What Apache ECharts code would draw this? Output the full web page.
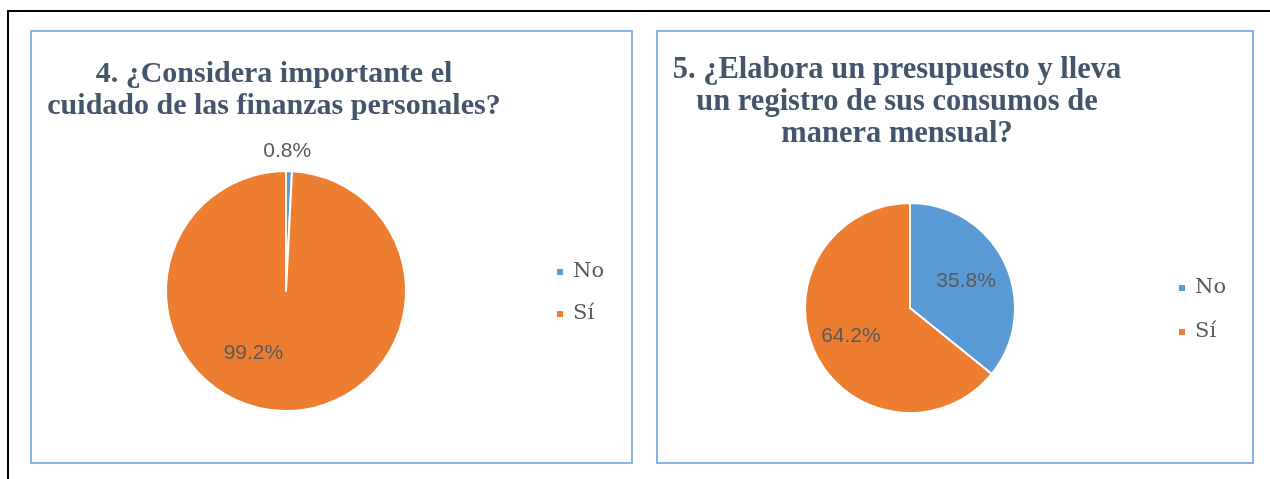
<!DOCTYPE html>
<html>
<head>
<meta charset="utf-8">
<script src="https://cdn.jsdelivr.net/npm/echarts@6/dist/echarts.min.js"></script>
<style>
html,body{margin:0;padding:0;background:#fff;}
#c{width:1270px;height:479px;}
</style>
</head>
<body>
<div id="c"></div>
<script>
var categories = ['No', 'Sí'];
var q4Values = [0.8, 99.2];
var q5Values = [35.8, 64.2];
var q4Title = '4. ¿Considera importante el\ncuidado de las finanzas personales?';
var q5Title = '5. ¿Elabora un presupuesto y lleva\nun registro de sus consumos de\nmanera mensual?';

var colors = ['#5b9bd5', '#ed7d31'];
var frameColor = '#88b4e2';
var titleColor = '#44546a';
var labelColor = '#595959';

function toData(vals) {
  return categories.map(function (c, i) { return { name: c, value: vals[i] }; });
}

var chart = echarts.init(document.getElementById('c'), null, { renderer: 'canvas' });

var baseSeries = {
  type: 'pie',
  startAngle: 90,
  clockwise: true,
  silent: true,
  animation: false,
  itemStyle: { borderColor: '#ffffff', borderWidth: 2 },
  labelLine: { show: false, length: 8, length2: 0 },
  emphasis: { disabled: true }
};

var labelFont = { color: labelColor, fontFamily: 'Liberation Sans', fontSize: 21 };
var legendText = { fontFamily: 'DejaVu Serif', fontSize: 21, color: labelColor, lineHeight: 22, padding: [0, 0, 0, 4] };

chart.setOption({
  backgroundColor: '#ffffff',
  color: colors,
  animation: false,
  graphic: [
    { type: 'line', shape: { x1: 8, y1: 11, x2: 1270, y2: 11 }, style: { stroke: '#000', lineWidth: 2 } },
    { type: 'line', shape: { x1: 8, y1: 10, x2: 8, y2: 479 }, style: { stroke: '#000', lineWidth: 2 } },
    { type: 'rect', shape: { x: 31, y: 31, width: 601, height: 432 }, style: { fill: 'none', stroke: frameColor, lineWidth: 2 } },
    { type: 'rect', shape: { x: 657, y: 31, width: 596, height: 432 }, style: { fill: 'none', stroke: frameColor, lineWidth: 2 } },
    { type: 'text', x: 274, y: 58, style: { text: q4Title, align: 'center', verticalAlign: 'top', font: 'bold 30px "Liberation Serif"', fill: titleColor, lineHeight: 32 } },
    { type: 'text', x: 897, y: 54, style: { text: q5Title, align: 'center', verticalAlign: 'top', font: 'bold 30.5px "Liberation Serif"', fill: titleColor, lineHeight: 32 } }
  ],
  legend: [
    {
      orient: 'vertical', left: 555, top: 261, data: categories, padding: 0,
      icon: 'rect', itemWidth: 8, itemHeight: 8, itemGap: 20,
      selectedMode: false, textStyle: legendText
    },
    {
      orient: 'vertical', left: 1177, top: 277, data: categories, padding: 0,
      icon: 'rect', itemWidth: 8, itemHeight: 8, itemGap: 22,
      selectedMode: false, textStyle: legendText
    }
  ],
  series: [
    Object.assign({}, baseSeries, {
      name: 'q4',
      center: [286, 291],
      radius: 120,
      data: toData(q4Values).map(function (d, i) {
        d.label = i === 0 ? { position: 'outside' } : { position: 'inside' };
        return d;
      }),
      label: Object.assign({ show: true, formatter: '{c}%' }, labelFont),
      labelLayout: function (p) {
        if (p.dataIndex === 0) return { align: 'center', verticalAlign: 'middle', dx: -7, dy: -12 };
        return { dx: -31, dy: -1 };
      }
    }),
    Object.assign({}, baseSeries, {
      name: 'q5',
      center: [910, 308],
      radius: 105,
      data: toData(q5Values),
      label: Object.assign({ show: true, position: 'inside', formatter: '{c}%' }, labelFont),
      labelLayout: function (p) {
        if (p.dataIndex === 0) return { dx: 6, dy: -3 };
        return { dx: -9, dy: 4 };
      }
    })
  ]
});
</script>
</body>
</html>
